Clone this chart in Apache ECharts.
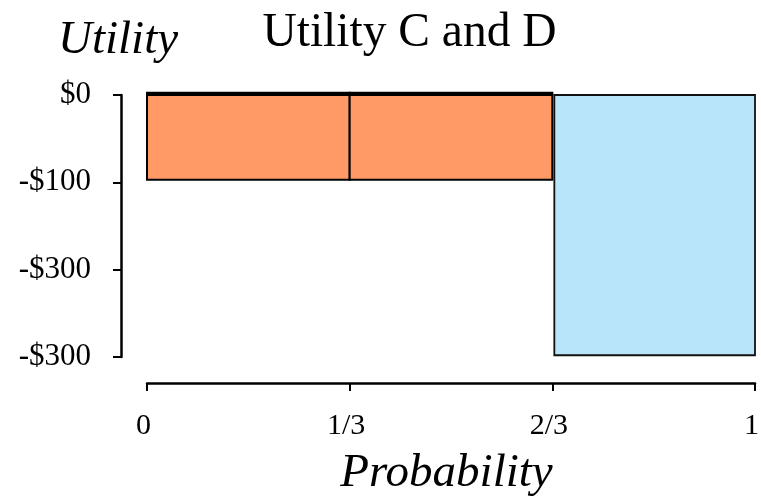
<!DOCTYPE html>
<html>
<head>
<meta charset="utf-8">
<script src="https://cdn.jsdelivr.net/npm/echarts@6/dist/echarts.min.js"></script>
<style>
  html, body { margin: 0; padding: 0; background: #fff; }
  #chart { width: 761px; height: 497px; }
</style>
</head>
<body>
<div id="chart"></div>
<script>
// Probability tick positions (in thirds) and their labels
const xTickValues = [0, 1, 2, 3];
const xTickLabels = ['0', '1/3', '2/3', '1'];

// Utility ticks and labels, as printed on the axis
const yTickValues = [0, -100, -200, -300];
const yTickLabels = ['$0', '-$100', '-$300', '-$300'];

// Option C: two outcome blocks
const cStart = [0, 1];
const cEnd = [1, 2];
const cValues = [-97, -97];

// Option D: one outcome block
const dStart = [2];
const dEnd = [3];
const dValues = [-298];

const FONT = '"Liberation Serif", "Times New Roman", serif';

function blockData(starts, ends, values) {
  return starts.map((s, i) => [s, ends[i], values[i]]);
}

function makeRender(fill, stroke, lineW, topEdge, inset) {
  return function (params, api) {
    const p0 = api.coord([api.value(0), 0]);
    const p1 = api.coord([api.value(1), api.value(2)]);
    const x0 = p0[0] + inset;
    const children = [{
      type: 'rect',
      shape: { x: x0, y: p0[1], width: p1[0] - x0, height: p1[1] - p0[1] },
      style: { fill: fill, stroke: stroke, lineWidth: lineW }
    }];
    if (topEdge) {
      children.push({
        type: 'line',
        shape: { x1: p0[0] - 1, y1: p0[1] - 1.5, x2: p1[0] + 1, y2: p0[1] - 1.5 },
        style: { stroke: '#000', lineWidth: topEdge }
      });
    }
    return { type: 'group', children: children };
  };
}

const chart = echarts.init(document.getElementById('chart'));
chart.setOption({
  animation: false,
  backgroundColor: '#fff',
  grid: { left: 147, right: 6, top: 95, bottom: 140, containLabel: false, outerBoundsMode: 'none' },
  xAxis: {
    type: 'value',
    min: 0, max: 3, interval: 1,
    offset: 26,
    splitLine: { show: false },
    axisLine: { show: true, onZero: false, lineStyle: { color: '#000', width: 2.5 } },
    axisTick: { show: true, length: 8, lineStyle: { color: '#000', width: 2 } },
    axisLabel: {
      margin: 28,
      padding: [0, 7, 0, 0],
      fontFamily: FONT, fontSize: 30, color: '#000',
      formatter: v => xTickLabels[xTickValues.indexOf(Math.round(v))] || ''
    }
  },
  yAxis: {
    type: 'value',
    min: -300, max: 0, interval: 100,
    offset: 26,
    splitLine: { show: false },
    axisLine: { show: true, onZero: false, lineStyle: { color: '#000', width: 2.5 } },
    axisTick: { show: true, length: 8, lineStyle: { color: '#000', width: 2 } },
    axisLabel: {
      margin: 30,
      fontFamily: FONT, fontSize: 31, color: '#000',
      formatter: v => yTickLabels[yTickValues.indexOf(Math.round(v))] || ''
    }
  },
  series: [
    {
      name: 'C',
      type: 'custom',
      renderItem: makeRender('#FF9966', '#000', 2, 3.5, 0),
      encode: { x: [0, 1], y: 2 },
      data: blockData(cStart, cEnd, cValues)
    },
    {
      name: 'D',
      type: 'custom',
      renderItem: makeRender('#B9E5FB', '#111', 1.8, 0, 2),
      encode: { x: [0, 1], y: 2 },
      data: blockData(dStart, dEnd, dValues)
    }
  ],
  graphic: [
    {
      type: 'text', x: 409.5, y: 34,
      style: { text: 'Utility C and D', font: '47.5px ' + FONT, fill: '#000', textAlign: 'center', textVerticalAlign: 'middle' }
    },
    {
      type: 'text', x: 118, y: 41,
      style: { text: 'Utility', font: 'italic 47px ' + FONT, fill: '#000', textAlign: 'center', textVerticalAlign: 'middle' }
    },
    {
      type: 'text', x: 446.5, y: 473.5,
      style: { text: 'Probability', font: 'italic 47px ' + FONT, fill: '#000', textAlign: 'center', textVerticalAlign: 'middle' }
    }
  ]
});
</script>
</body>
</html>
